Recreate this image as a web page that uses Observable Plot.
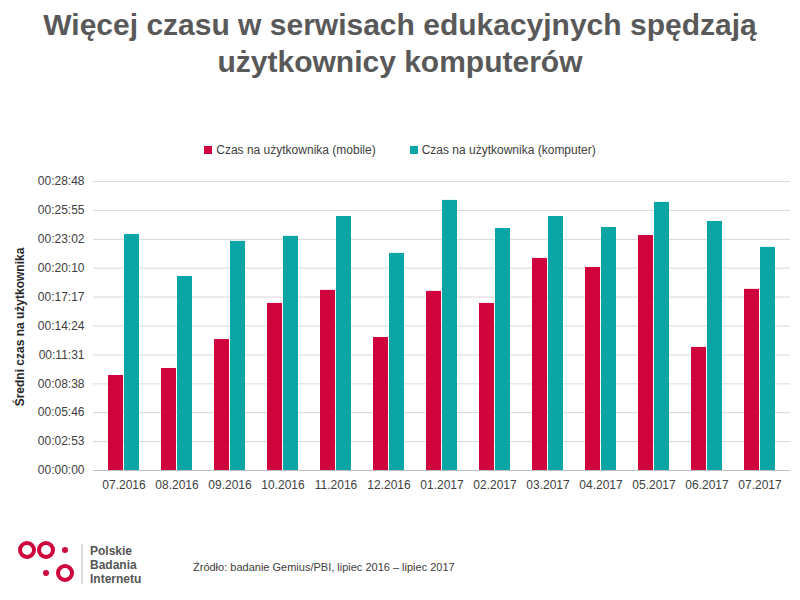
<!DOCTYPE html>
<html><head><meta charset="utf-8">
<script src="https://cdn.jsdelivr.net/npm/d3@7"></script>
<script src="https://cdn.jsdelivr.net/npm/@observablehq/plot@0.6"></script>
<style>
body{margin:0;width:800px;height:600px;background:#fff;font-family:Arial,"Liberation Sans",sans-serif;position:relative;overflow:hidden}
#title{position:absolute;top:6px;left:0;width:800px;text-align:center;font-size:30px;font-weight:bold;color:#595959;line-height:37px}
#legend{position:absolute;top:143px;left:0;width:800px;text-align:center;font-size:12px;color:#404040}
.sw{display:inline-block;width:8px;height:8px;margin-right:4px}
#chart{position:absolute;top:165px;left:0}
#ylab{position:absolute;left:-60px;top:320px;transform:rotate(-90deg);font-size:12px;font-weight:bold;color:#262626;width:160px;text-align:center}
#src{position:absolute;left:193px;top:561px;font-size:11px;color:#404040}
#logo{position:absolute;left:18px;top:540px}
</style></head><body>
<div id="title">Więcej czasu w serwisach edukacyjnych spędzają<br>użytkownicy komputerów</div>
<div id="legend"><span class="sw" style="background:#d0043c"></span>Czas na użytkownika (mobile)<span style="display:inline-block;width:34px"></span><span class="sw" style="background:#0aa5a5"></span>Czas na użytkownika (komputer)</div>
<div id="chart"></div>
<div id="ylab">Średni czas na użytkownika</div>
<div id="src">Źródło: badanie Gemius/PBI, lipiec  2016 – lipiec 2017</div>
<svg id="logo" width="180" height="50">
<circle cx="9" cy="10" r="7" fill="none" stroke="#d0043c" stroke-width="4"/>
<circle cx="28" cy="10" r="7" fill="none" stroke="#d0043c" stroke-width="4"/>
<circle cx="47" cy="10" r="3" fill="#d0043c"/>
<circle cx="28" cy="33" r="3" fill="#d0043c"/>
<circle cx="47" cy="33" r="7" fill="none" stroke="#d0043c" stroke-width="4"/>
<line x1="64" y1="4" x2="64" y2="44" stroke="#bbb"/>
<text x="72" y="15" font-size="12" font-weight="bold" fill="#555">Polskie</text>
<text x="72" y="29" font-size="12" font-weight="bold" fill="#555">Badania</text>
<text x="72" y="43" font-size="12" font-weight="bold" fill="#555">Internetu</text>
</svg>
<script>
const months=["07.2016","08.2016","09.2016","10.2016","11.2016","12.2016","01.2017","02.2017","03.2017","04.2017","05.2017","06.2017","07.2017"];
const mobile=[568,610,783,999,1077,795,1071,999,1268,1214,1405,736,1083];
const komputer=[1411,1160,1370,1400,1519,1298,1615,1447,1519,1453,1603,1489,1334];
const yTicks=[0,173,346,518,691,864,1037,1210,1382,1555,1728];
const dm=months.map((m,i)=>({m,v:mobile[i]}));
const dk=months.map((m,i)=>({m,v:komputer[i]}));
const fmt=s=>{s=Math.round(s);const h=Math.floor(s/3600),mi=Math.floor(s%3600/60),se=s%60;return [h,mi,se].map(x=>String(x).padStart(2,"0")).join(":");};
const p=Plot.plot({width:800,height:340,marginLeft:93,marginRight:10,marginTop:16,marginBottom:35,
style:{fontFamily:"Arial, Liberation Sans, sans-serif",fontSize:"12px",color:"#404040"},
x:{domain:months,padding:0,label:null,tickSize:0,tickPadding:10},
y:{domain:[0,1728],ticks:yTicks,tickFormat:fmt,label:null,tickSize:0},
marks:[
Plot.gridY(yTicks,{stroke:"#d9d9d9",strokeOpacity:1}),
Plot.barY(dm,{x:"m",y:"v",fill:"#d0043c",insetLeft:11,insetRight:27}),
Plot.barY(dk,{x:"m",y:"v",fill:"#0aa5a5",insetLeft:27,insetRight:11}),
Plot.ruleY([0],{stroke:"#bfbfbf"})
]});
document.getElementById("chart").appendChild(p);
</script></body></html>
